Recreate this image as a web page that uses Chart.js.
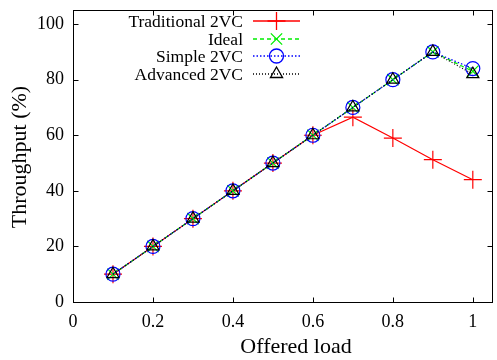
<!DOCTYPE html>
<html>
<head>
<meta charset="utf-8">
<script src="https://cdn.jsdelivr.net/npm/chart.js@4/dist/chart.umd.min.js"></script>
<style>
  html, body { margin: 0; padding: 0; background: #fff; }
  #wrap { width: 497px; height: 360px; overflow: hidden; }
</style>
</head>
<body>
<div id="wrap"><canvas id="chart" width="503" height="360"></canvas></div>
<script>
const loads = [0.1, 0.2, 0.3, 0.4, 0.5, 0.6, 0.7, 0.8, 0.9, 1.0];
const traditional = [10, 20, 30, 40, 50, 60, 66.5, 59, 51.2, 44];
const ideal = [10, 20, 30, 40, 50, 60, 70, 80, 90, 83];
const simple = [10, 20, 30, 40, 50, 60, 70, 80, 90, 84];
const advanced = [10, 20, 30, 40, 50, 60, 70, 80, 90, 82];
const xTicks = [0, 0.2, 0.4, 0.6, 0.8, 1];
const yTicks = [0, 20, 40, 60, 80, 100];
const xTitle = 'Offered load';
const yTitle = 'Throughput (%)';

const FONT = '"Liberation Serif", "Times New Roman", serif';

const series = [
    { label: 'Traditional 2VC', data: traditional, color: '#ff0000', dash: [], style: 'cross', r: 9, order: 4 },
    { label: 'Ideal', data: ideal, color: '#00ee00', dash: [4, 3], style: 'crossRot', r: 8, order: 3 },
    { label: 'Simple 2VC', data: simple, color: '#0000ff', dash: [1.5, 2], style: 'circle', r: 7, order: 2 },
    { label: 'Advanced 2VC', data: advanced, color: '#000000', dash: [1, 2], style: 'triangle', r: 7, order: 1 }
];

function pts(ys) {
    return loads.map((x, i) => ({ x: x, y: ys[i] }));
}

// gnuplot style frame with inward ticks on all four sides
const framePlugin = {
    id: 'frame',
    afterDatasetsDraw(chart) {
        const { ctx, chartArea: a, scales } = chart;
        const L = Math.round(a.left) + 0.5, R = Math.round(a.right) - 0.5;
        const T = Math.round(a.top) + 0.5, B = Math.round(a.bottom) + 0.5;
        ctx.save();
        ctx.strokeStyle = '#000';
        ctx.lineWidth = 1;
        ctx.strokeRect(L, T, R - L, B - T);
        const len = 5;
        ctx.beginPath();
        scales.x.ticks.forEach(t => {
            const px = Math.round(scales.x.getPixelForValue(t.value)) + 0.5;
            ctx.moveTo(px, B); ctx.lineTo(px, B - len);
            ctx.moveTo(px, T); ctx.lineTo(px, T + len);
        });
        scales.y.ticks.forEach(t => {
            const py = Math.round(scales.y.getPixelForValue(t.value)) + 0.5;
            ctx.moveTo(L, py); ctx.lineTo(L + len, py);
            ctx.moveTo(R, py); ctx.lineTo(R - len, py);
        });
        ctx.stroke();

        // axis titles
        ctx.fillStyle = '#000';
        ctx.font = '22px ' + FONT;
        ctx.textAlign = 'center';
        ctx.textBaseline = 'middle';
        ctx.fillText(xTitle, 296, 347);
        ctx.translate(20, 157);
        ctx.rotate(-Math.PI / 2);
        ctx.fillText(yTitle, 0, 0);
        ctx.restore();
    }
};

// key in the top-left corner: text right aligned, then line sample + marker
const keyPlugin = {
    id: 'key',
    afterDraw(chart) {
        const { ctx } = chart;
        const textRight = 243, lineL = 253, lineR = 300, top = 21, step = 17.5;
        ctx.save();
        ctx.font = '17.5px ' + FONT;
        ctx.textAlign = 'right';
        ctx.textBaseline = 'middle';
        series.forEach((s, i) => {
            const y = Math.round(top + i * step);
            ctx.fillStyle = '#000';
            ctx.fillText(s.label, textRight, y + 1);
            ctx.strokeStyle = s.color;
            ctx.lineWidth = 1.3;
            ctx.setLineDash(s.dash);
            ctx.beginPath();
            ctx.moveTo(lineL, y); ctx.lineTo(lineR, y);
            ctx.stroke();
            ctx.setLineDash([]);
            ctx.fillStyle = 'rgba(0,0,0,0)';
            ctx.strokeStyle = s.color;
            Chart.helpers.drawPoint(ctx, {
                pointStyle: s.style,
                radius: s.r,
                borderWidth: 1.3,
                rotation: 0
            }, (lineL + lineR) / 2, y);
        });
        ctx.restore();
    }
};

new Chart(document.getElementById('chart'), {
    type: 'line',
    data: {
        datasets: series.map(s => ({
            label: s.label,
            data: pts(s.data),
            borderColor: s.color,
            backgroundColor: 'rgba(0,0,0,0)',
            borderWidth: 1.2,
            borderDash: s.dash,
            pointStyle: s.style,
            pointRadius: s.r,
            pointBorderColor: s.color,
            pointBackgroundColor: 'rgba(0,0,0,0)',
            pointBorderWidth: 1.2,
            tension: 0,
            fill: false,
            order: s.order
        }))
    },
    options: {
        responsive: false,
        animation: false,
        layout: { padding: { top: 7, right: 2, left: 0, bottom: 0 } },
        plugins: { legend: { display: false }, tooltip: { enabled: false } },
        scales: {
            x: {
                type: 'linear',
                min: 0,
                max: 1.05,
                afterBuildTicks: sc => { sc.ticks = xTicks.map(v => ({ value: v })); },
                afterFit: sc => {
                    sc.height = 58;
                    sc.paddingLeft = 0; sc.paddingRight = 0;
                },
                grid: { display: false, drawTicks: false },
                border: { display: false },
                ticks: {
                    color: '#000',
                    padding: 9,
                    maxRotation: 0,
                    font: { family: FONT, size: 18 },
                    callback: v => String(v)
                }
            },
            y: {
                type: 'linear',
                min: 0,
                max: 105,
                afterBuildTicks: sc => { sc.ticks = yTicks.map(v => ({ value: v })); },
                afterFit: sc => {
                    sc.width = 73;
                    sc.paddingTop = 0; sc.paddingBottom = 0;
                },
                grid: { display: false, drawTicks: false },
                border: { display: false },
                ticks: {
                    color: '#000',
                    padding: 9,
                    font: { family: FONT, size: 18 },
                    callback: v => String(v)
                }
            }
        }
    },
    plugins: [framePlugin, keyPlugin]
});
</script>
</body>
</html>
